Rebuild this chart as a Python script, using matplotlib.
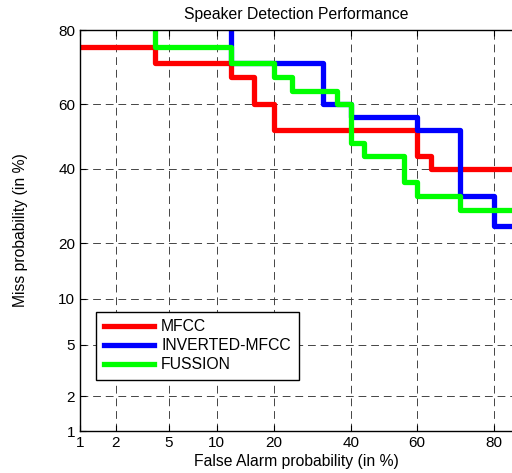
import math
import numpy as np
import matplotlib
matplotlib.use('Agg')
from matplotlib import pyplot

# DET curve data (probabilities), staircase vertices
mfcc_fa = [0.001, 0.04, 0.12, 0.16, 0.20, 0.60, 0.64, 0.999]
mfcc_miss = [0.76, 0.72, 0.68, 0.60, 0.52, 0.44, 0.40, 0.40]

inv_fa = [0.12, 0.12, 0.32, 0.40, 0.60, 0.72, 0.80, 0.999]
inv_miss = [0.999, 0.72, 0.60, 0.56, 0.52, 0.32, 0.24, 0.24]

fus_fa = [0.04, 0.04, 0.12, 0.20, 0.24, 0.36, 0.40, 0.44, 0.56, 0.60, 0.72, 0.999]
fus_miss = [0.999, 0.76, 0.72, 0.68, 0.64, 0.60, 0.48, 0.44, 0.36, 0.32, 0.28, 0.28]

tick_probs = [0.01, 0.02, 0.05, 0.10, 0.20, 0.40, 0.60, 0.80]
tick_labels = ['1', '2', '5', '10', '20', '40', '60', '80']

# Acklam's inverse normal approximation
A = [-3.969683028665376e+01, 2.209460984245205e+02, -2.759285104469687e+02,
     1.383577518672690e+02, -3.066479806614716e+01, 2.506628277459239e+00]
B = [-5.447609879822406e+01, 1.615858368580409e+02, -1.556989798598866e+02,
     6.680131188771972e+01, -1.328068155288572e+01]
C = [-7.784894002430293e-03, -3.223964580411365e-01, -2.400758660247485e+00,
     -2.549732539343734e+00, 4.374664141464968e+00, 2.938163982698783e+00]
D = [7.784695709041462e-03, 3.224671290700398e-01, 2.445134137142996e+00,
     3.754408661907416e+00]


def _ppf(p):
    p = min(max(p, 1e-9), 1 - 1e-9)
    plow = 0.02425
    if p < plow:
        q = math.sqrt(-2 * math.log(p))
        return (((((C[0]*q + C[1])*q + C[2])*q + C[3])*q + C[4])*q + C[5]) / \
               ((((D[0]*q + D[1])*q + D[2])*q + D[3])*q + 1)
    if p > 1 - plow:
        q = math.sqrt(-2 * math.log(1 - p))
        return -(((((C[0]*q + C[1])*q + C[2])*q + C[3])*q + C[4])*q + C[5]) / \
                ((((D[0]*q + D[1])*q + D[2])*q + D[3])*q + 1)
    q = p - 0.5
    r = q * q
    return (((((A[0]*r + A[1])*r + A[2])*r + A[3])*r + A[4])*r + A[5])*q / \
           (((((B[0]*r + B[1])*r + B[2])*r + B[3])*r + B[4])*r + 1)


def _cdf(z):
    return 0.5 * (1 + math.erf(z / math.sqrt(2)))


ppf = np.vectorize(_ppf, otypes=[float])
cdf = np.vectorize(_cdf, otypes=[float])

pyplot.rcParams['font.family'] = ['Liberation Sans', 'DejaVu Sans']

fig = pyplot.figure(figsize=(5.12, 4.73), dpi=100)
ax = fig.add_axes([80 / 512, 42 / 473, 432 / 512, 401 / 473])

ax.set_xscale('function', functions=(ppf, cdf))
ax.set_yscale('function', functions=(ppf, cdf))

ax.step(mfcc_fa, mfcc_miss, where='post', color='#ff0000', lw=3.8, label='MFCC')
ax.step(inv_fa, inv_miss, where='post', color='#0000ff', lw=3.8, label='INVERTED-MFCC')
ax.step(fus_fa, fus_miss, where='post', color='#00ff00', lw=3.8, label='FUSSION')

ax.set_xlim(0.01, 0.836)
ax.set_ylim(0.01, 0.80)
ax.set_xticks(tick_probs)
ax.set_xticklabels(tick_labels)
ax.set_yticks(tick_probs)
ax.set_yticklabels(tick_labels)
ax.minorticks_off()
ax.tick_params(direction='in', length=4, width=0.8, labelsize=11, colors='black',
               top=True)
ax.grid(True, color='#444444', linestyle=(0, (8, 5)), linewidth=0.7)
ax.spines['right'].set_visible(False)
for s in ['left', 'top', 'bottom']:
    ax.spines[s].set_linewidth(1.0)

ax.set_title('Speaker Detection Performance', fontsize=11.3, pad=8)
ax.set_xlabel('False Alarm probability (in %)', fontsize=11.3, labelpad=3)
ax.set_ylabel('Miss probability (in %)', fontsize=11.3, labelpad=22)

leg = ax.legend(loc='lower left', bbox_to_anchor=(0.037, 0.127), borderaxespad=0,
                fancybox=False, edgecolor='black', framealpha=1, fontsize=11.3,
                handlelength=3.2, handletextpad=0.45, labelspacing=0.25,
                borderpad=0.5)
leg.get_frame().set_linewidth(1.0)

fig.savefig('out.png', dpi=100)
